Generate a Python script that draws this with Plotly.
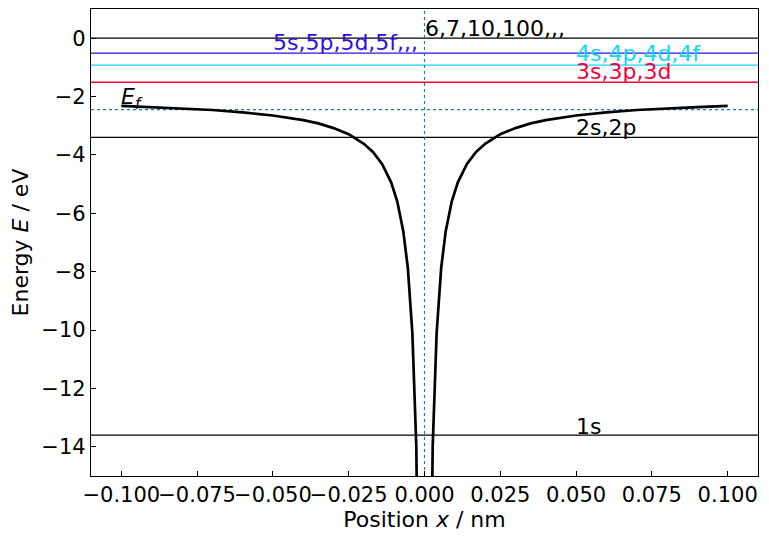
import plotly.graph_objects as go

# potential curve, right half (symmetric about x = 0)
x_half = [0.0013, 0.0027, 0.004, 0.0055, 0.007, 0.009, 0.011, 0.014, 0.017,
          0.020, 0.025, 0.030, 0.035, 0.040, 0.050, 0.060, 0.070, 0.080,
          0.090, 0.100]
v_half = [-26.8, -14.0, -10.1, -7.87, -6.61, -5.59, -4.94, -4.31, -3.90,
          -3.62, -3.29, -3.08, -2.92, -2.81, -2.65, -2.54, -2.46, -2.40,
          -2.36, -2.32]

# energy levels
levels = [0.0, -0.51, -0.92, -1.51, -3.4, -13.6]
level_colors = ["black", "#3010e0", "#10d8f0", "#f5003c", "black", "black"]
level_labels = ["6,7,10,100,,,", "5s,5p,5d,5f,,,", "4s,4p,4d,4f",
                "3s,3p,3d", "2s,2p", "1s"]
label_x = [0.0, -0.05, 0.05, 0.05, 0.05, 0.05]
label_shift = [-5, -4, -3, -4, -5, -6]

e_fermi = -2.45

x_ticks = [-0.1, -0.075, -0.05, -0.025, 0, 0.025, 0.05, 0.075, 0.1]

x_curve = [-v for v in reversed(x_half)] + x_half
v_curve = list(reversed(v_half)) + v_half

fig = go.Figure()

for lv, col in zip(levels, level_colors):
    fig.add_trace(go.Scatter(x=[-0.11, 0.11], y=[lv, lv], mode="lines",
                             line=dict(color=col, width=1.3), hoverinfo="skip"))

fig.add_trace(go.Scatter(x=[-0.11, 0.11], y=[e_fermi, e_fermi], mode="lines",
                         line=dict(color="#1f77b4", width=1.2, dash="dot")))
fig.add_trace(go.Scatter(x=[0, 0], y=[-15, 1], mode="lines",
                         line=dict(color="#1f77b4", width=1.2, dash="dot")))

fig.add_trace(go.Scatter(x=x_curve, y=v_curve, mode="lines",
                         line=dict(color="black", width=2.7)))

for lab, lx, lv, col, sh in zip(level_labels, label_x, levels, level_colors, label_shift):
    fig.add_annotation(x=lx, y=lv, text=lab, showarrow=False, xanchor="left",
                       yanchor="bottom", yshift=sh, xshift=-2,
                       font=dict(color=col, size=22))

fig.add_annotation(x=-0.1, y=-2.32, text="<i>E<sub>f</sub></i>", showarrow=False,
                   xanchor="left", yanchor="bottom", yshift=-9, xshift=-2,
                   font=dict(color="black", size=22))

axis_style = dict(showline=True, mirror=True, linecolor="black", linewidth=1.3,
                  ticks="inside", ticklen=5, tickcolor="black", showgrid=False,
                  zeroline=False, automargin=False,
                  tickfont=dict(size=21, color="black"))

fig.update_xaxes(range=[-0.11, 0.11], tickvals=x_ticks, tickformat=".3f",
                 tickangle=0,
                 title=dict(text="Position <i>x</i> / nm", font=dict(size=22),
                            standoff=3), **axis_style)
fig.update_yaxes(range=[-15, 1], dtick=2,
                 title=dict(text="Energy <i>E</i> / eV", font=dict(size=22),
                            standoff=8), **axis_style)

# page body adds an 8px margin, so the figure is 8px smaller
fig.update_layout(width=761, height=529, showlegend=False,
                  margin=dict(l=83, r=11, t=1, b=61),
                  plot_bgcolor="white", paper_bgcolor="white",
                  font=dict(family="DejaVu Sans", color="black"))

fig.write_html("out.html")
